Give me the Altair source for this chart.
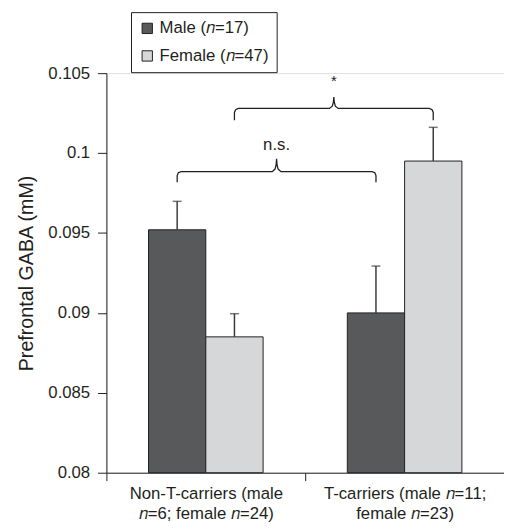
import altair as alt
import pandas as pd

# ---- data ----
groups = ["Non-T-carriers (male|𝑛=6; female 𝑛=24)", "T-carriers (male 𝑛=11;|female 𝑛=23)"]
sexes = ["Male (𝑛=17)", "Female (𝑛=47)"]
male_means = [0.0952, 0.0900]
male_err = [0.00178, 0.00293]
female_means = [0.0885, 0.0995]
female_err = [0.00145, 0.00211]

y_ticks = [0.08, 0.085, 0.09, 0.095, 0.1, 0.105]

# significance braces: label, start/end positions (group index + bar-centre fraction), levels
brace_labels = ["n.s.", "*"]
brace_x0 = [0.356, 0.644]
brace_x1 = [1.356, 1.644]
brace_end = [0.09817, 0.10205]
brace_mid = [0.09884, 0.10279]
brace_tip = [0.09964, 0.10350]
brace_text_y = [0.10051, 0.10451]
brace_text_size = [17, 15]

COLORS = ["#58595b", "#d6d7d9"]
DARK = "#231f20"
FONT = "Liberation Sans"

rows = []
for gi, g in enumerate(groups):
    rows.append({"group": g, "sex": sexes[0], "mean": male_means[gi],
                 "upper": male_means[gi] + male_err[gi]})
    rows.append({"group": g, "sex": sexes[1], "mean": female_means[gi],
                 "upper": female_means[gi] + female_err[gi]})
df = pd.DataFrame(rows)

# brace outlines
bp = []
for bi, lab in enumerate(brace_labels):
    x0, x1 = brace_x0[bi], brace_x1[bi]
    yE, yH, yT = brace_end[bi], brace_mid[bi], brace_tip[bi]
    rx, ry, tx = 0.02, 0.00025, 0.022
    xm = (x0 + x1) / 2
    half = [(x0, yE), (x0, yH - ry), (x0 + 0.293 * rx, yH - 0.293 * ry), (x0 + rx, yH),
            (xm - tx, yH), (xm - tx * 0.35, yH + (yT - yH) * 0.2),
            (xm - tx * 0.1, yH + (yT - yH) * 0.55), (xm, yT)]
    mirrored = [(2 * xm - px, py) for (px, py) in reversed(half[:-1])]
    for i, (px, py) in enumerate(half + mirrored):
        bp.append({"brace": lab, "i": i, "x": px, "y": py})
brace_df = pd.DataFrame(bp)
text_df = pd.DataFrame({"label": brace_labels,
                        "x": [(a + b) / 2 for a, b in zip(brace_x0, brace_x1)],
                        "y": brace_text_y, "size": brace_text_size})

yscale = alt.Scale(domain=[0.08, 0.105], zero=False, nice=False)

x_enc = alt.X("group:N", sort=groups, title=None,
              scale=alt.Scale(paddingInner=0, paddingOuter=0),
              axis=alt.Axis(labelExpr="split(datum.label, '|')", labelAngle=0,
                            tickBand="extent", labelFontSize=17, labelFont=FONT,
                            labelColor=DARK, labelLineHeight=21, labelPadding=5,
                            tickSize=8, tickColor=DARK, domainColor=DARK,
                            labelBaseline="top"))
xoff = alt.XOffset("sex:N", sort=sexes,
                   scale=alt.Scale(paddingInner=0, paddingOuter=0.735))

bars = alt.Chart(df).mark_bar(stroke=DARK, strokeWidth=1).encode(
    x=x_enc, xOffset=xoff,
    y=alt.Y("mean:Q", scale=yscale, title="Prefrontal GABA (mM)",
            axis=alt.Axis(values=y_ticks, format="~g", labelFontSize=17, labelFont=FONT,
                          labelColor=DARK, tickSize=9, labelPadding=8, tickColor=DARK,
                          domainColor=DARK, titleFont=FONT, titleFontSize=20,
                          titleFontWeight="normal", titleColor=DARK, titlePadding=12,
                          grid=False)),
    y2=alt.datum(0.08),
    color=alt.Color("sex:N", sort=sexes,
                    scale=alt.Scale(domain=sexes, range=COLORS),
                    legend=alt.Legend(title=None, orient="none", legendX=25, legendY=-62,
                                      strokeColor=DARK, padding=8, symbolType="square",
                                      symbolSize=110, symbolStrokeColor=DARK,
                                      symbolStrokeWidth=1, labelFontSize=17,
                                      labelFont=FONT, labelColor=DARK, rowPadding=10,
                                      fillColor="white")),
)

err = alt.Chart(df).mark_rule(color="#3a3a3a", strokeWidth=1.5).encode(
    x=alt.X("group:N", sort=groups), xOffset=xoff,
    y=alt.Y("mean:Q", scale=yscale), y2="upper:Q")

caps = alt.Chart(df).mark_tick(color="#3a3a3a", thickness=1.5, size=9, orient="horizontal").encode(
    x=alt.X("group:N", sort=groups), xOffset=xoff,
    y=alt.Y("upper:Q", scale=yscale))

base = alt.layer(bars, err, caps)

qx = alt.Scale(domain=[0, 2], nice=False, zero=False)
braces = alt.Chart(brace_df).mark_line(color=DARK, strokeWidth=1.3).encode(
    x=alt.X("x:Q", scale=qx, axis=None),
    y=alt.Y("y:Q", scale=yscale),
    detail="brace:N", order="i:Q")
texts = alt.Chart(text_df).mark_text(font=FONT, color=DARK, baseline="middle").encode(
    x=alt.X("x:Q", scale=qx, axis=None),
    y=alt.Y("y:Q", scale=yscale),
    text="label:N", size=alt.Size("size:Q", scale=None, legend=None))

chart = alt.layer(base, braces, texts).resolve_scale(x="independent").properties(
    width=404, height=406,
    autosize=alt.AutoSizeParams(type="none"),
    padding={"left": 100, "top": 62, "right": 0, "bottom": 54},
).configure_view(stroke=None).configure(background="white")

chart.save("out.html", embed_options={"renderer": "svg", "actions": False})
